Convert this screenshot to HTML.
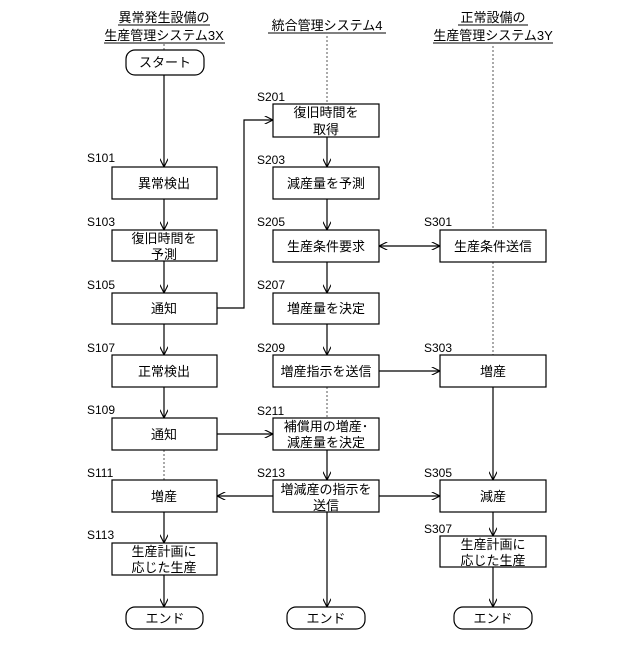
<!DOCTYPE html>
<html><head><meta charset="utf-8"><style>
body{margin:0;background:#fff}
svg text{font-family:"Liberation Sans","Noto Sans CJK JP",sans-serif;fill:#000}
</style></head><body>
<svg width="640" height="640" viewBox="0 0 640 640" xmlns="http://www.w3.org/2000/svg">
<defs><marker id="a" viewBox="0 0 10 10" refX="10" refY="5" markerWidth="7" markerHeight="7" orient="auto-start-reverse"><path d="M0,0 L10,5 L0,10" fill="none" stroke="#000" stroke-width="1.3"/></marker></defs>
<g font-size="13" text-anchor="middle">
<text x="164" y="22">異常発生設備の</text><text x="164" y="40">生産管理システム3X</text>
<text x="327" y="30">統合管理システム4</text>
<text x="493" y="22">正常設備の</text><text x="493" y="40">生産管理システム3Y</text>
</g>
<g stroke="#000" stroke-width="1">
<line x1="118" y1="25" x2="210" y2="25"/><line x1="104" y1="43" x2="225" y2="43"/>
<line x1="268" y1="33" x2="386" y2="33"/>
<line x1="458" y1="25" x2="528" y2="25"/><line x1="433" y1="43" x2="553" y2="43"/>
</g>
<g stroke="#555" stroke-width="1" stroke-dasharray="2,2" fill="none">
<line x1="327" y1="36" x2="327" y2="104"/>
<line x1="493" y1="46" x2="493" y2="355"/>
<line x1="164" y1="450" x2="164" y2="480"/>
<line x1="327" y1="387" x2="327" y2="418"/>
<line x1="164" y1="44" x2="164" y2="50"/>
</g>
<g stroke="#000" stroke-width="1.2" fill="none" marker-end="url(#a)">
<line x1="164" y1="75" x2="164" y2="167"/>
<line x1="164" y1="199" x2="164" y2="230"/>
<line x1="164" y1="261" x2="164" y2="293"/>
<line x1="164" y1="324" x2="164" y2="355"/>
<line x1="164" y1="387" x2="164" y2="418"/>
<line x1="164" y1="512" x2="164" y2="543"/>
<line x1="164" y1="575" x2="164" y2="607"/>
<polyline points="217,308 244,308 244,120 273,120"/>
<line x1="327" y1="137" x2="327" y2="167"/>
<line x1="327" y1="199" x2="327" y2="230"/>
<line x1="327" y1="262" x2="327" y2="293"/>
<line x1="327" y1="324" x2="327" y2="355"/>
<line x1="327" y1="450" x2="327" y2="480"/>
<line x1="327" y1="512" x2="327" y2="607"/>
<line x1="379" y1="246" x2="440" y2="246" marker-start="url(#a)"/>
<line x1="379" y1="371" x2="440" y2="371"/>
<line x1="217" y1="434" x2="273" y2="434"/>
<line x1="273" y1="496" x2="217" y2="496"/>
<line x1="379" y1="496" x2="440" y2="496"/>
<line x1="493" y1="387" x2="493" y2="480"/>
<line x1="493" y1="512" x2="493" y2="536"/>
<line x1="493" y1="567" x2="493" y2="607"/>
</g>
<g stroke="#000" stroke-width="1.2" fill="#fff">
<rect x="126" y="50" width="78" height="25" rx="9"/>
<rect x="126" y="607" width="77" height="22" rx="9"/>
<rect x="287" y="607" width="78" height="22" rx="9"/>
<rect x="454" y="607" width="78" height="22" rx="9"/>
<rect x="112" y="167" width="105" height="32"/>
<rect x="112" y="230" width="105" height="31"/>
<rect x="112" y="293" width="105" height="31"/>
<rect x="112" y="355" width="105" height="32"/>
<rect x="112" y="418" width="105" height="32"/>
<rect x="112" y="480" width="105" height="32"/>
<rect x="112" y="543" width="105" height="32"/>
<rect x="273" y="104" width="106" height="33"/>
<rect x="273" y="167" width="106" height="32"/>
<rect x="273" y="230" width="106" height="32"/>
<rect x="273" y="293" width="106" height="31"/>
<rect x="273" y="355" width="106" height="32"/>
<rect x="273" y="418" width="106" height="32"/>
<rect x="273" y="480" width="106" height="32"/>
<rect x="440" y="230" width="106" height="32"/>
<rect x="440" y="355" width="106" height="32"/>
<rect x="440" y="480" width="106" height="32"/>
<rect x="440" y="536" width="106" height="31"/>
</g>
<g font-size="13" text-anchor="middle">
<text x="165" y="67">スタート</text>
<text x="165" y="623">エンド</text><text x="326" y="623">エンド</text><text x="493" y="623">エンド</text>
<text x="164" y="188">異常検出</text>
<text x="164" y="243">復旧時間を</text><text x="164" y="259">予測</text>
<text x="164" y="313">通知</text>
<text x="164" y="376">正常検出</text>
<text x="164" y="439">通知</text>
<text x="164" y="501">増産</text>
<text x="164" y="556">生産計画に</text><text x="164" y="572">応じた生産</text>
<text x="326" y="117">復旧時間を</text><text x="326" y="134">取得</text>
<text x="326" y="188">減産量を予測</text>
<text x="326" y="251">生産条件要求</text>
<text x="326" y="313">増産量を決定</text>
<text x="326" y="376">増産指示を送信</text>
<text x="326" y="431">補償用の増産･</text><text x="326" y="447">減産量を決定</text>
<text x="326" y="494">増減産の指示を</text><text x="326" y="510">送信</text>
<text x="493" y="251">生産条件送信</text>
<text x="493" y="376">増産</text>
<text x="493" y="501">減産</text>
<text x="493" y="549">生産計画に</text><text x="493" y="565">応じた生産</text>
</g>
<g font-size="12">
<text x="87" y="162">S101</text><text x="87" y="226">S103</text><text x="87" y="289">S105</text>
<text x="87" y="352">S107</text><text x="87" y="414">S109</text><text x="87" y="477">S111</text>
<text x="87" y="539">S113</text>
<text x="257" y="101">S201</text><text x="257" y="164">S203</text><text x="257" y="226">S205</text>
<text x="257" y="289">S207</text><text x="257" y="352">S209</text><text x="257" y="415">S211</text>
<text x="257" y="477">S213</text>
<text x="424" y="226">S301</text><text x="424" y="352">S303</text><text x="424" y="477">S305</text>
<text x="424" y="533">S307</text>
</g>
</svg>
</body></html>
